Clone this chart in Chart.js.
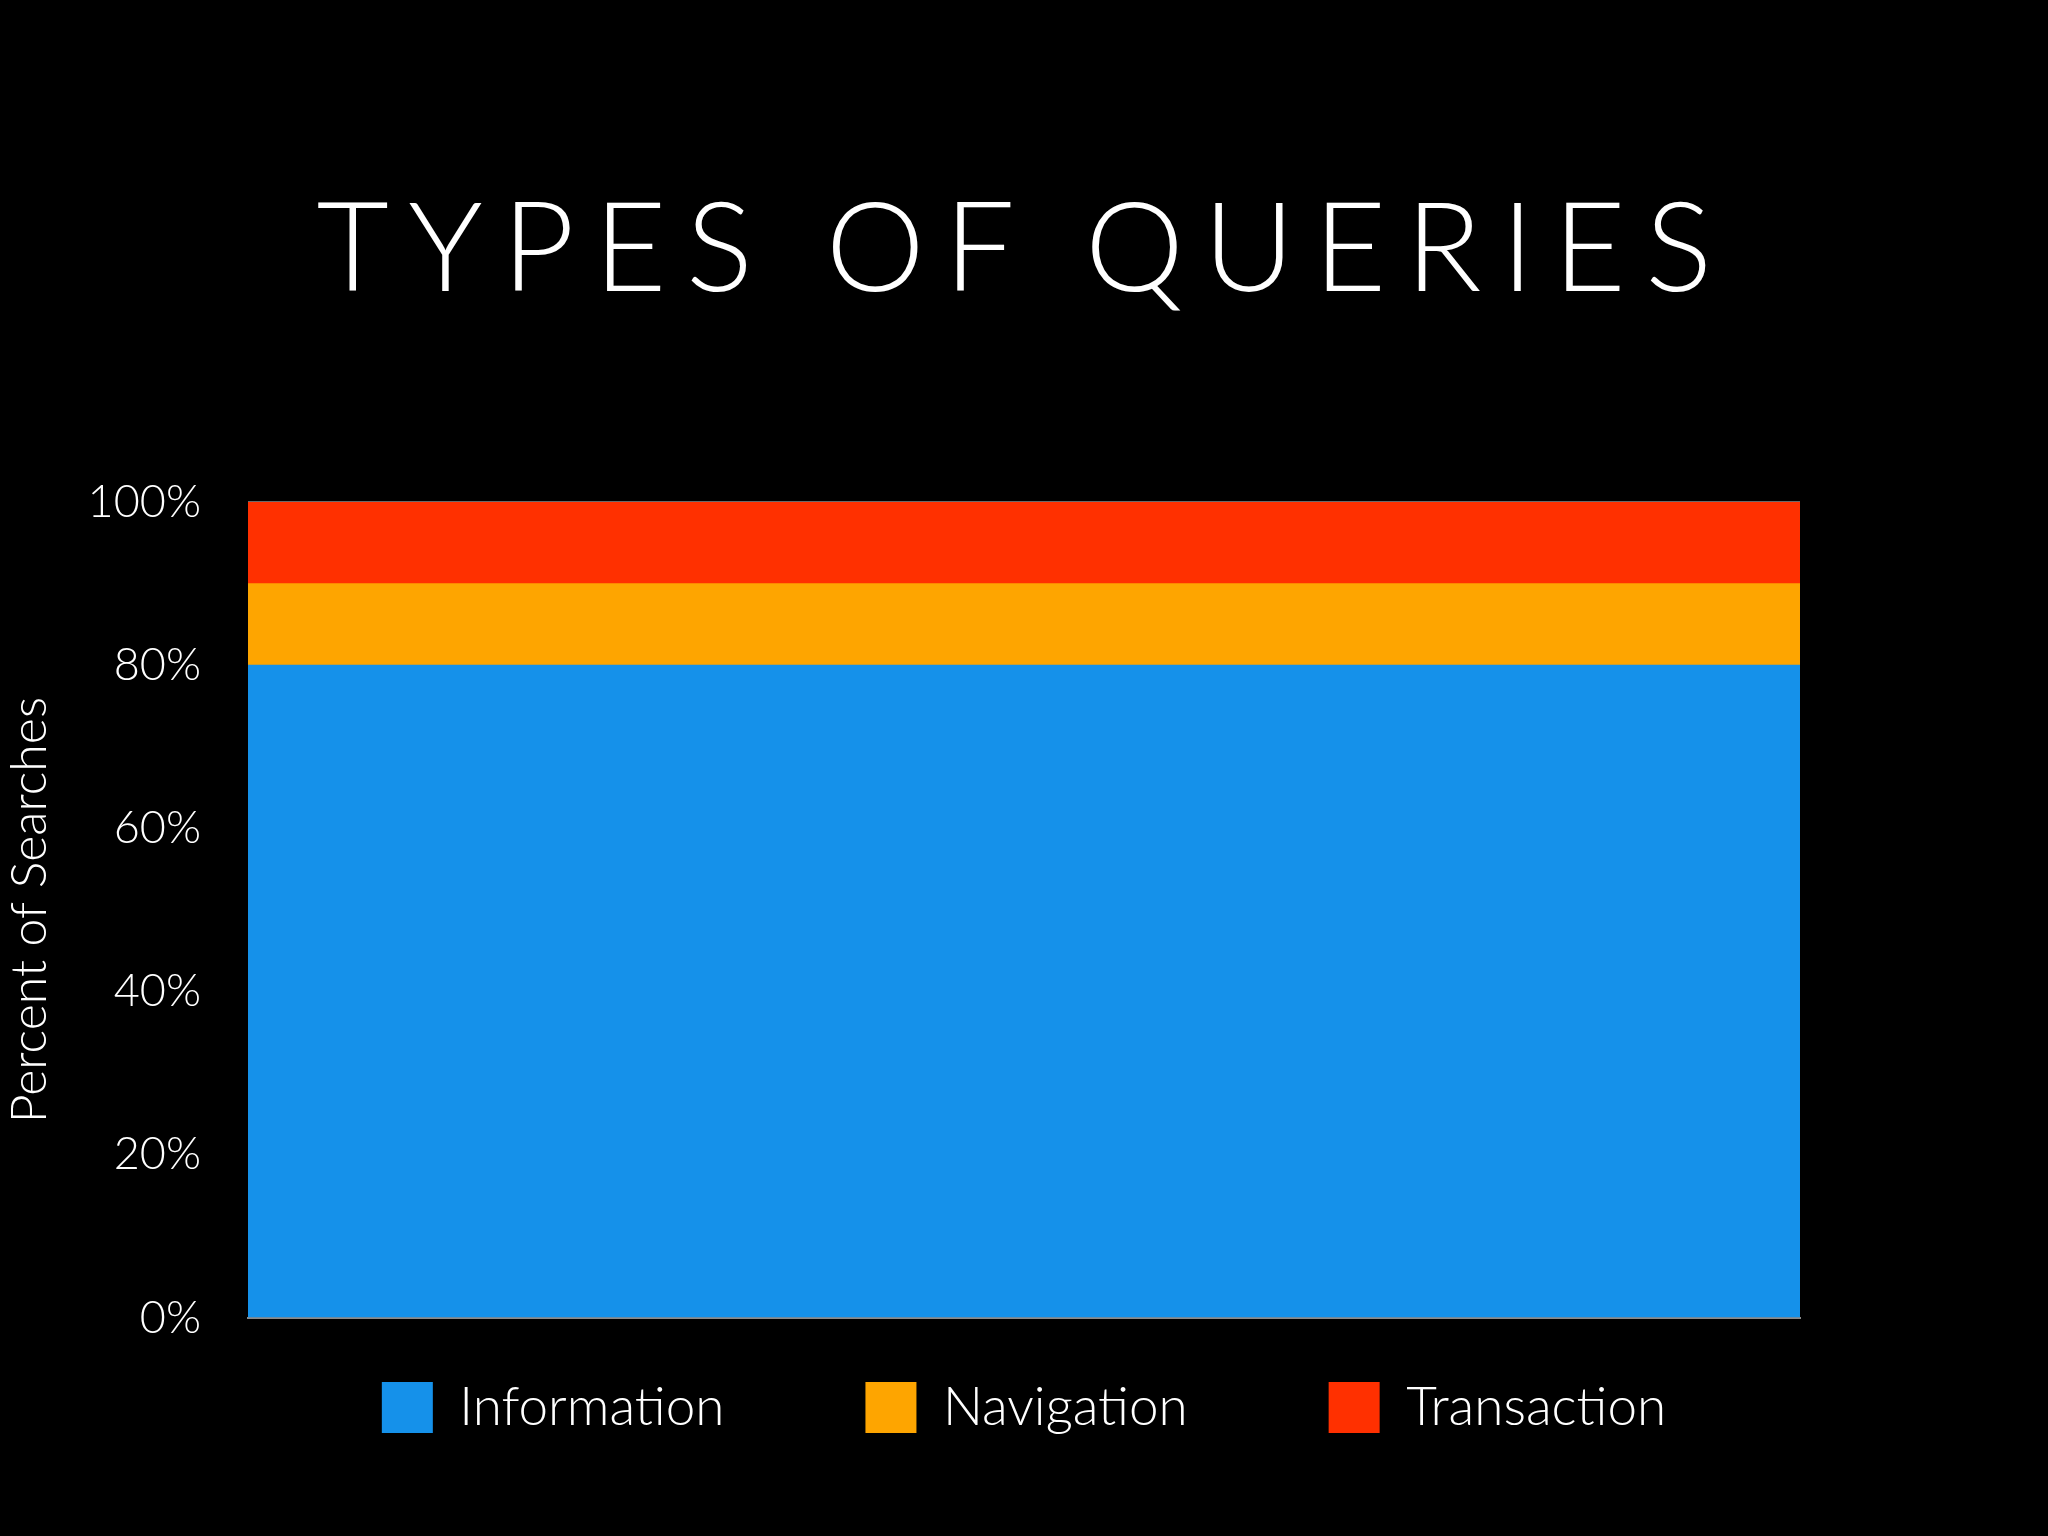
<!DOCTYPE html>
<html>
<head>
<meta charset="utf-8">
<title>Types of Queries</title>
<script src="https://cdn.jsdelivr.net/npm/chart.js@4.4.1/dist/chart.umd.min.js"></script>
<style>
  html, body { margin: 0; padding: 0; background: #000; }
  #wrap { position: relative; width: 2048px; height: 1536px; background: #000; }
  #title {
    position: absolute; left: 0; top: 181px; width: 2048px;
    margin: 0; text-align: center;
    font-family: 'Lato', sans-serif; font-weight: 300;
    font-size: 125px; line-height: 1; color: #fff;
    letter-spacing: 19.5px;
  }
  #chart { position: absolute; left: 0; top: 0; }
</style>
</head>
<body>
<div id="wrap">
  <h1 id="title">TYPES OF QUERIES</h1>
  <canvas id="chart" width="2048" height="1536"></canvas>
</div>
<script>
'use strict';

// ── Data ──────────────────────────────────────────────────────────────────────

const categories  = ['Queries'];
const information = [80];
const navigation  = [10];
const transaction = [10];
const yTicks      = [0, 20, 40, 60, 80, 100];

const BLUE   = '#1591ea';
const ORANGE = '#fea500';
const RED    = '#ff3000';

// legend labels padding is also used vertically; pull the row back up
const LEGEND_LIFT = 78;

Chart.defaults.font.family = "'Lato', sans-serif";
Chart.defaults.font.weight = 300;
Chart.defaults.color = '#fff';

// legend: centre on the whole page and lift it under the plot
const placeLegend = {
  id: 'placeLegend',
  afterLayout(chart) {
    const lg = chart.legend;
    if (!lg) return;
    lg.top -= LEGEND_LIFT;
    lg.bottom -= LEGEND_LIFT;
    lg.left = 0;
    lg.right = chart.width;
  },
};

new Chart(document.getElementById('chart'), {
  type: 'bar',
  data: {
    labels: categories,
    datasets: [
      { label: 'Information', data: information, backgroundColor: BLUE },
      { label: 'Navigation',  data: navigation,  backgroundColor: ORANGE },
      { label: 'Transaction', data: transaction, backgroundColor: RED },
    ],
  },
  options: {
    responsive: false,
    animation: false,
    datasets: {
      bar: { barPercentage: 1, categoryPercentage: 1, borderWidth: 0 },
    },
    layout: { padding: { top: 502, right: 248, bottom: 14, left: 0 } },
    plugins: {
      title: { display: false },
      tooltip: { enabled: false },
      legend: {
        position: 'bottom',
        labels: {
          boxWidth: 51,
          boxHeight: 51,
          padding: 141,
          color: '#fff',
          font: { size: 53, weight: 300 },
        },
      },
    },
    scales: {
      x: {
        stacked: true,
        ticks: { display: false },
        grid: { display: false, drawTicks: false },
        border: { display: true, color: '#8a8a8a', width: 2 },
      },
      y: {
        stacked: true,
        min: 0,
        max: 100,
        afterBuildTicks: scale => {
          scale.ticks = yTicks.map(v => ({ value: v }));
        },
        afterFit: scale => { scale.width = 248; },
        ticks: {
          padding: 47,
          color: '#fff',
          font: { size: 45, weight: 300 },
          callback: v => v + '%',
        },
        grid: { color: '#6a6a6a', lineWidth: 2, drawTicks: false },
        border: { display: false },
        title: {
          display: true,
          text: 'Percent of Searches',
          color: '#fff',
          padding: { top: 0, bottom: 0 },
          font: { size: 50, weight: 300 },
        },
      },
    },
  },
  plugins: [placeLegend],
});
</script>
</body>
</html>
